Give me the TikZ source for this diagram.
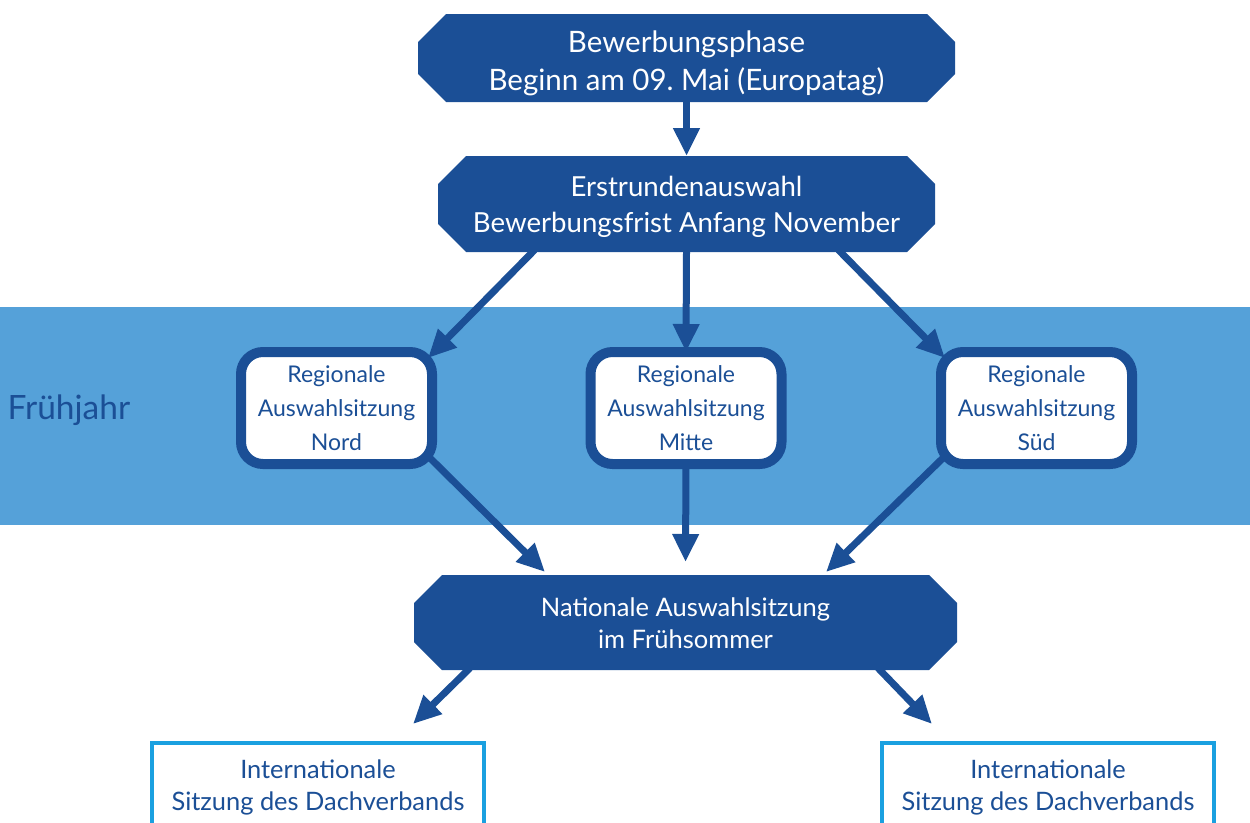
\documentclass[tikz,border=0pt]{standalone}
\usepackage{fontspec}
\setmainfont{Lato}
\usetikzlibrary{arrows.meta,calc,backgrounds}
\definecolor{dblue}{RGB}{27,79,150}
\definecolor{bandblue}{RGB}{85,161,217}
\definecolor{cyanb}{RGB}{26,160,224}
\newcommand\octfill[1]{\fill[dblue] ($(#1.north west)+(28,0)$) -- ($(#1.north east)+(-28,0)$) -- ($(#1.north east)+(0,28)$) -- ($(#1.south east)+(0,-28)$) -- ($(#1.south east)+(-28,0)$) -- ($(#1.south west)+(28,0)$) -- ($(#1.south west)+(0,-28)$) -- ($(#1.north west)+(0,28)$) -- cycle;}
\newcommand\twolines[3]{\raisebox{#1}[0pt][0pt]{\begin{tabular}{@{}c@{}}#2\\#3\end{tabular}}}
\frenchspacing
\begin{document}
\begin{tikzpicture}[x=1pt,y=-1pt,
  octbox/.style={inner sep=0pt, outer sep=0pt, text=white, align=center},
  regbox/.style={draw=dblue, line width=10pt, fill=white, rounded corners=22pt, minimum width=191pt, minimum height=112pt, inner sep=0pt, outer sep=0pt, text=dblue, align=center, font=\fontsize{23}{34}\selectfont},
  intbox/.style={draw=cyanb, line width=4pt, fill=white, minimum width=332pt, minimum height=88pt, inner sep=0pt, outer sep=0pt, text=dblue, align=center, font=\fontsize{25.4}{32}\selectfont},
  arr/.style={draw=dblue, line width=7pt, -{Triangle[length=28pt,width=25pt]}}]
\useasboundingbox (0,0) rectangle (1250,822);
\node[fill=bandblue, minimum width=1250pt, minimum height=218pt, inner sep=0pt, outer sep=0pt, anchor=north west] (band) at (0,307) {};
\node[anchor=west, text=dblue, font=\fontsize{33.5}{38}\selectfont] (fj) at (4,410) {Frühjahr};

\node[octbox, minimum width=537pt, minimum height=88pt, font=\fontsize{29.5}{38}\selectfont] (bew) at (686.5,58) {\twolines{-12.4pt}{Bewerbungsphase}{Beginn am 09. Mai (Europatag)}};
\node[octbox, minimum width=497pt, minimum height=96pt, font=\fontsize{27.6}{36}\selectfont] (erst) at (686.5,204) {\twolines{-9.9pt}{Erstrundenauswahl}{Bewerbungsfrist Anfang November}};
\node[octbox, minimum width=543pt, minimum height=95pt, font=\fontsize{25.5}{32}\selectfont] (nat) at (685.5,622.5) {\twolines{-9.4pt}{Nationale Auswahlsitzung}{im Frühsommer}};
\begin{pgfonlayer}{background}
\octfill{bew}\octfill{erst}\octfill{nat}
\end{pgfonlayer}

\node[regbox] (nord) at (336.5,408) {Regionale\\Auswahlsitzung\\Nord};
\node[regbox] (mitte) at (686,408) {Regionale\\Auswahlsitzung\\Mitte};
\node[regbox] (sued) at (1036.5,408) {Regionale\\Auswahlsitzung\\Süd};

\node[intbox] (intl) at (318,787) {Internationale\\Sitzung des Dachverbands};
\node[intbox] (intr) at (1048,787) {Internationale\\Sitzung des Dachverbands};

\draw[arr] (bew.south) -- (erst.north);
\draw[arr] ($(erst.south)+(-152,-2)$) -- ($(nord.north east)+(-4,6)$);
\draw[arr] (erst.south) -- (mitte.north);
\draw[arr] ($(erst.south)+(152,-2)$) -- ($(sued.north west)+(4,6)$);
\draw[arr] ($(nord.south east)+(-2,-6)$) -- ($(nat.north west)+(131,-3)$);
\draw[arr] (mitte.south) -- ($(nat.north)+(0,-13)$);
\draw[arr] ($(sued.south west)+(2,-6)$) -- ($(nat.north east)+(-131,-3)$);
\draw[arr] ($(nat.south west)+(56,-2)$) -- ($(intl.north)+(95,-19)$);
\draw[arr] ($(nat.south east)+(-79,-2)$) -- ($(intr.north)+(-116,-19)$);
\end{tikzpicture}
\end{document}
